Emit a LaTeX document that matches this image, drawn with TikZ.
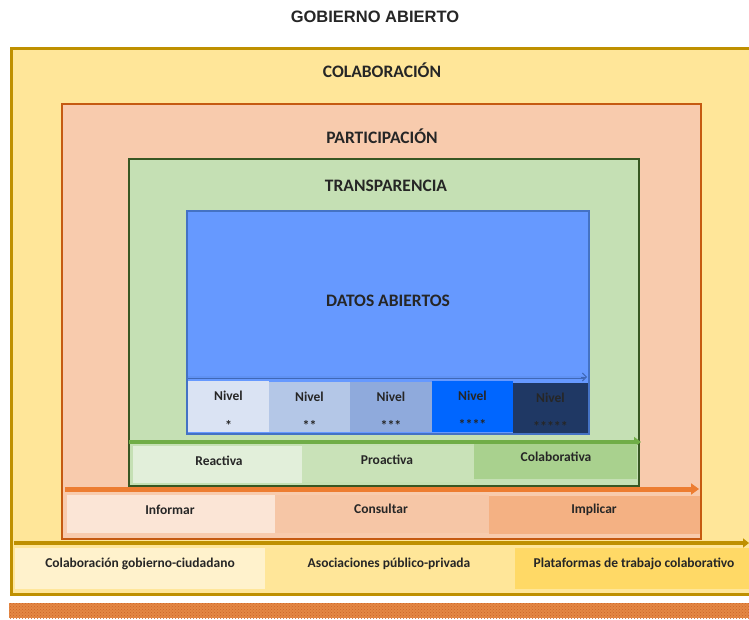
\documentclass[tikz,border=0pt]{standalone}
\usepackage{fontspec}
\setmainfont{Carlito}
\newfontfamily\titlefont{Liberation Sans}
\usetikzlibrary{arrows.meta,calc,patterns}
\definecolor{goldfill}{HTML}{FFE699}
\definecolor{goldline}{HTML}{BF9000}
\definecolor{salmonfill}{HTML}{F8CBAD}
\definecolor{salmonline}{HTML}{C55A11}
\definecolor{greenfill}{HTML}{C5E0B4}
\definecolor{greenline}{HTML}{385723}
\definecolor{bluefill}{HTML}{6699FF}
\definecolor{blueline}{HTML}{4472C4}
\definecolor{darkblue}{HTML}{3F68B8}
\definecolor{lvA}{HTML}{DAE3F3}
\definecolor{lvB}{HTML}{B4C7E7}
\definecolor{lvC}{HTML}{8FAADC}
\definecolor{lvD}{HTML}{0066FF}
\definecolor{lvE}{HTML}{1F3864}
\definecolor{garrow}{HTML}{70AD47}
\definecolor{grA}{HTML}{E2EFDA}
\definecolor{grB}{HTML}{C9E2B8}
\definecolor{grC}{HTML}{A9D18E}
\definecolor{oarrow}{HTML}{ED7D31}
\definecolor{orA}{HTML}{FBE5D6}
\definecolor{orB}{HTML}{F6C6A6}
\definecolor{orC}{HTML}{F4B183}
\definecolor{ylA}{HTML}{FFF2CC}
\definecolor{ylB}{HTML}{FFE699}
\definecolor{ylC}{HTML}{FFD966}
\definecolor{barfill}{HTML}{E48845}
\definecolor{bardots}{HTML}{CC6428}
\definecolor{txt}{HTML}{262626}
\begin{document}
\begin{tikzpicture}[x=1pt,y=-1pt,
  box/.style={anchor=north west, inner sep=0pt, outer sep=0pt},
  hdr/.style={font=\bfseries\fontsize{17.5}{20}\selectfont, text=txt, inner sep=0pt},
  lbl/.style={font=\bfseries\fontsize{13.5}{16}\selectfont, text=txt, inner sep=0pt},
  stars/.style={font=\bfseries\fontsize{14}{16}\selectfont, text=txt, inner sep=0pt},
]
\useasboundingbox (0,0) rectangle (749,620);
\clip (0,0) rectangle (749,620);
\fill[white] (0,0) rectangle (749,620);

% title
\node[font=\titlefont\bfseries\fontsize{16.5}{19}\selectfont, text=txt, inner sep=0pt] (title) at (375,17) {GOBIERNO ABIERTO};

% nested boxes
\node[box, fill=goldfill, draw=goldline, line width=3pt, minimum width=760pt, minimum height=545pt] (colab) at (11,49) {};
\node[box, fill=salmonfill, draw=salmonline, line width=2.2pt, minimum width=639pt, minimum height=435pt] (partic) at (62,104) {};
\node[box, fill=greenfill, draw=greenline, line width=2.5pt, minimum width=510pt, minimum height=327pt] (transp) at (129,159) {};
\node[box, fill=bluefill, draw=blueline, line width=1.6pt, minimum width=402pt, minimum height=223pt] (datos) at (187,211) {};

\node[hdr] (tcolab) at (382,70) {COLABORACIÓN};
\node[hdr] (tpartic) at (382,136) {PARTICIPACIÓN};
\node[hdr] (ttransp) at (386,186) {TRANSPARENCIA};
\node[hdr] (tdatos) at (388,301) {DATOS ABIERTOS};

% double arrow in blue box
\coordinate (da1) at (188,377);
\coordinate (da2) at (587,377);
\draw[darkblue, line width=3pt] (da1) -- ($(da2)+(-3,0)$);
\draw[bluefill!85!darkblue, line width=1.2pt] (da1) -- ($(da2)+(-3,0)$);
\draw[darkblue, line width=0.9pt, -{Straight Barb[length=4pt,width=8pt]}] ($(da2)+(-6,0)$) -- (da2);

% levels
\node[box, fill=lvA, minimum width=81pt, minimum height=51pt] (n1) at (188,381) {};
\node[box, fill=lvB, minimum width=81pt, minimum height=50pt] (n2) at (269,382) {};
\node[box, fill=lvC, minimum width=82pt, minimum height=50pt] (n3) at (350,382) {};
\node[box, fill=lvD, minimum width=81pt, minimum height=51pt] (n4) at (432,381) {};
\node[box, fill=lvE, minimum width=75pt, minimum height=50pt] (n5) at (513,383) {};
\node[lbl] (n1a) at ($(n1.north)+(0,15)$) {Nivel};
\node[lbl] (n2a) at ($(n2.north)+(0,15)$) {Nivel};
\node[lbl] (n3a) at ($(n3.north)+(0,15)$) {Nivel};
\node[lbl] (n4a) at ($(n4.north)+(0,15)$) {Nivel};
\node[lbl] (n5a) at ($(n5.north)+(0,15)$) {Nivel};
\node[stars] (n1b) at ($(n1.north)+(0,44)$) {*};
\node[stars] (n2b) at ($(n2.north)+(0,43)$) {**};
\node[stars] (n3b) at ($(n3.north)+(0,43)$) {***};
\node[stars] (n4b) at ($(n4.north)+(0,43)$) {****};
\node[stars] (n5b) at ($(n5.north)+(0,43)$) {*****};

% green arrow and row
\coordinate (ga1) at (129,442);
\coordinate (ga2) at (641,442);
\draw[garrow, line width=4pt, -{Triangle[length=7pt,width=10pt]}] (ga1) -- (ga2);
\node[box, fill=grA, minimum width=169pt, minimum height=37pt] (reac) at (133,446) {};
\node[box, fill=grB, minimum width=172pt, minimum height=36pt] (proac) at (302,446) {};
\node[box, fill=grC, minimum width=163pt, minimum height=35pt] (colabv) at (474,444) {};
\node[lbl] (treac) at (219,461) {Reactiva};
\node[lbl] (tproac) at (387,460) {Proactiva};
\node[lbl] (tcolabv) at (556,457) {Colaborativa};

% orange arrow and row
\coordinate (oa1) at (65,489);
\coordinate (oa2) at (699,489);
\draw[oarrow, line width=5pt, -{Triangle[length=8pt,width=11pt]}] (oa1) -- (oa2);
\node[box, fill=orA, minimum width=208pt, minimum height=38pt] (inf) at (67,495) {};
\node[box, fill=orB, minimum width=214pt, minimum height=38pt] (cons) at (275,495) {};
\node[box, fill=orC, minimum width=211pt, minimum height=38pt] (impl) at (489,496) {};
\node[lbl] (tinf) at (170,510) {Informar};
\node[lbl] (tcons) at (381,509) {Consultar};
\node[lbl] (timpl) at (594,510) {Implicar};

% gold arrow and row
\coordinate (ya1) at (14,543);
\coordinate (ya2) at (749,543);
\draw[goldline, line width=3.5pt, -{Triangle[length=6pt,width=9pt]}] (ya1) -- (ya2);
\node[box, fill=ylA, minimum width=250pt, minimum height=41pt] (cgc) at (15,548) {};
\node[box, fill=ylB, minimum width=250pt, minimum height=41pt] (app) at (265,548) {};
\node[box, fill=ylC, minimum width=240pt, minimum height=41pt] (ptc) at (515,548) {};
\node[lbl] (tcgc) at (140,564) {Colaboración gobierno-ciudadano};
\node[lbl] (tapp) at (389,564) {Asociaciones público-privada};
\node[lbl] (tptc) at (634,564) {Plataformas de trabajo colaborativo};

% bottom hatched bar
\fill[barfill] (9,603) rectangle (749,618);
\fill[pattern=crosshatch dots, pattern color=bardots] (9,603) rectangle (749,618);
\end{tikzpicture}
\end{document}
